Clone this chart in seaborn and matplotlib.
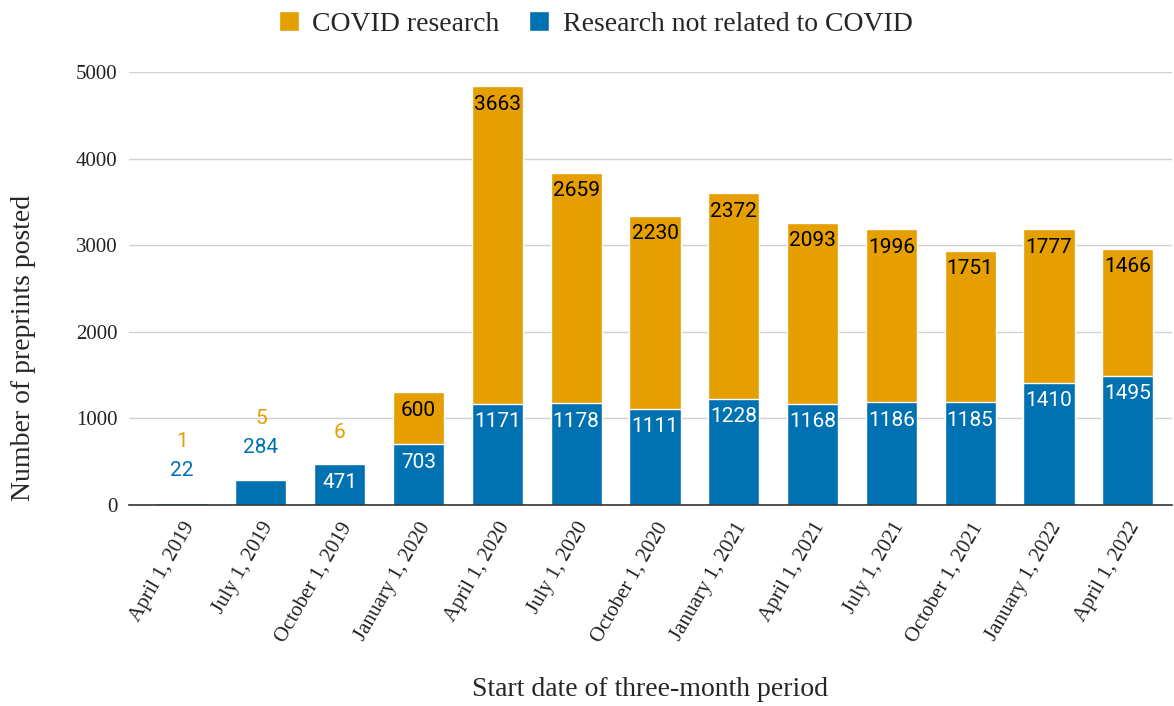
import matplotlib.pyplot as plt
import seaborn as sns
import pandas as pd

# quarterly preprint counts
periods = ['April 1, 2019', 'July 1, 2019', 'October 1, 2019', 'January 1, 2020',
           'April 1, 2020', 'July 1, 2020', 'October 1, 2020', 'January 1, 2021',
           'April 1, 2021', 'July 1, 2021', 'October 1, 2021', 'January 1, 2022',
           'April 1, 2022']
non_covid = [22, 284, 471, 703, 1171, 1178, 1111, 1228, 1168, 1186, 1185, 1410, 1495]
covid = [1, 5, 6, 600, 3663, 2659, 2230, 2372, 2093, 1996, 1751, 1777, 1466]

orange = '#E69F00'
blue = '#0072B2'

df = pd.DataFrame({'period': periods, 'non_covid': non_covid, 'covid': covid})
df['total'] = df['non_covid'] + df['covid']

sns.set_style('white')
plt.rcParams['font.family'] = ['Liberation Serif', 'DejaVu Serif']

fig = plt.figure(figsize=(11.74, 7.06), dpi=100)
ax = fig.add_axes([129 / 1174, 0.2847, 1043 / 1174, 0.6133])

sns.barplot(data=df, x='period', y='total', color=orange, width=0.65,
            saturation=1, ax=ax, label='COVID research')
sns.barplot(data=df, x='period', y='non_covid', color=blue, width=0.65,
            saturation=1, ax=ax, label='Research not related to COVID')

lbl = dict(family='Roboto', fontsize=15, ha='center', va='center')
for i, row in df.iterrows():
    nc, cv, tot = row['non_covid'], row['covid'], row['total']
    if nc < 400:
        ax.annotate(str(nc), (i, tot), xytext=(0, 23.5), textcoords='offset points',
                    color=blue, **lbl)
        ax.annotate(str(cv), (i, tot), xytext=(0, 44), textcoords='offset points',
                    color=orange, **lbl)
        continue
    ax.annotate(str(nc), (i, nc), xytext=(0, -13), textcoords='offset points',
                color='white', **lbl)
    if cv < 100:
        ax.annotate(str(cv), (i, tot), xytext=(0, 22.5), textcoords='offset points',
                    color=orange, **lbl)
    else:
        ax.annotate(str(cv), (i, tot), xytext=(0, -13), textcoords='offset points',
                    color='black', **lbl)

ax.set_ylim(0, 5000)
ax.set_xlim(-0.673, 12.56)
ax.set_yticks([0, 1000, 2000, 3000, 4000, 5000])
ax.yaxis.grid(True, color='#d0d0d0', linewidth=1)
ax.set_axisbelow(True)
for s in ['top', 'right', 'left']:
    ax.spines[s].set_visible(False)
ax.spines['bottom'].set_color('#333333')
ax.spines['bottom'].set_linewidth(1.2)
ax.tick_params(axis='both', length=0, labelsize=15, colors='#222222')
ax.tick_params(axis='y', pad=8.5)
ax.tick_params(axis='x', pad=10)
plt.setp(ax.get_xticklabels(), rotation=60, ha='right', rotation_mode='anchor')

ax.set_ylabel('Number of preprints posted', fontsize=20, va='center')
ax.yaxis.set_label_coords(-0.1016, 0.363)
ax.set_xlabel('Start date of three-month period', fontsize=20, va='center')
ax.xaxis.set_label_coords(0.5, -0.427)

h, l = ax.get_legend_handles_labels()
ax.legend(h, l, loc='center', bbox_to_anchor=(595.5 / 1174, 0.966),
          bbox_transform=fig.transFigure, ncol=2, frameon=False, fontsize=20,
          handlelength=0.72, handleheight=0.72, columnspacing=1.04,
          handletextpad=0.5)

fig.savefig('out.png', dpi=100)
